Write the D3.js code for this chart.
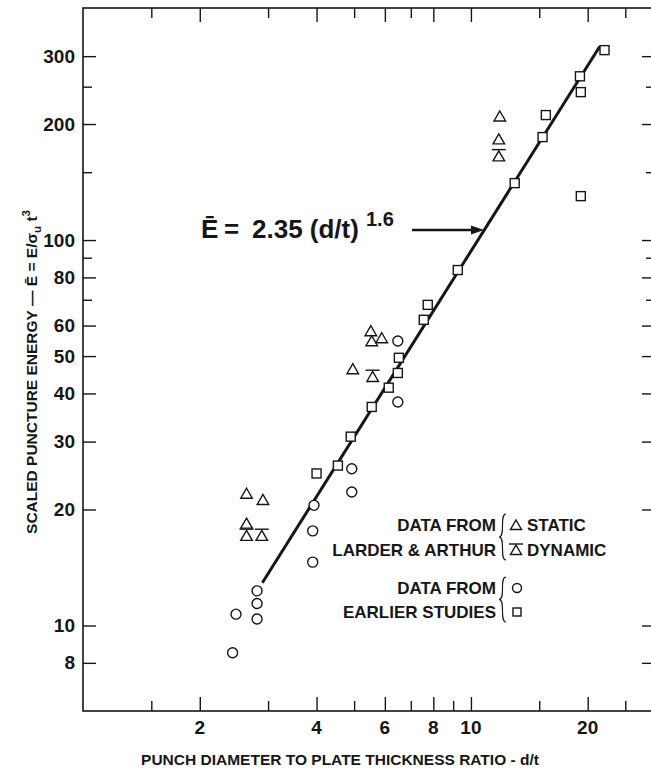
<!DOCTYPE html>
<html>
<head>
<meta charset="utf-8">
<script src="https://cdn.jsdelivr.net/npm/d3@7"></script>
<style>
  body { margin: 0; background: #fff; }
  svg { display: block; }
  text { font-family: "Liberation Sans", Arial, sans-serif; font-weight: bold; fill: #161616; }
</style>
</head>
<body>
<svg id="chart" width="651" height="772"></svg>
<script>
// values (d/t, scaled energy)
const staticX = [2.64, 2.91, 2.64, 4.96, 5.52, 5.55, 5.89, 11.87, 11.8];
const staticY = [22.0, 21.2, 18.4, 46.3, 58.1, 54.7, 55.7, 209.5, 182.7];

const dynamicX = [2.64, 2.89, 5.58, 11.8];
const dynamicY = [17.1, 17.1, 44.2, 165.1];

const circleX = [2.43, 2.48, 2.81, 2.81, 2.81, 3.91, 3.91, 3.94, 4.93, 4.93, 6.48, 6.48];
const circleY = [8.5, 10.7, 12.3, 11.4, 10.4, 14.6, 17.6, 20.5, 22.2, 25.5, 38.0, 54.7];

const squareX = [4.0, 4.54, 4.9, 5.55, 6.14, 6.48, 6.52, 7.56, 7.74, 9.25, 12.97, 15.3, 15.6, 19.1, 19.2, 19.2, 22.1];
const squareY = [24.8, 26.0, 30.9, 36.9, 41.4, 45.2, 49.5, 62.1, 67.9, 83.6, 140.5, 185, 211, 266, 242, 130, 311];

// fitted line E = 2.35 (d/t)^1.6, drawn over this d/t span
const fitCoef = 2.35;
const fitExp = 1.6;
const fitSpan = [2.9, 21.5];

// ticks
const xMajor = [2, 4, 6, 8, 10, 20];
const xMinor = [1.5, 3, 5, 7, 9, 15, 25];
const xMinorTop = [1.5, 3, 5, 7, 15, 25];
const yMajor = [8, 10, 20, 30, 40, 50, 60, 80, 100, 200, 300];
const yMinor = [70, 90, 150, 250];

const xTitle = "PUNCH DIAMETER TO PLATE THICKNESS RATIO - d/t";
const legendLeft = [["DATA FROM", "LARDER & ARTHUR"], ["DATA FROM", "EARLIER STUDIES"]];
const legendRight = ["STATIC", "DYNAMIC"];

const svg = d3.select("#chart");
const ink = "#161616";

const x = d3.scaleLog().domain([1, 30]).range([83, 656]);
const y = d3.scaleLog().domain([6, 400]).range([711, 8]);
const plotLeft = x.range()[0], plotRight = x.range()[1];
const plotTop = y.range()[1], plotBottom = y.range()[0];

// frame
svg.append("rect")
    .attr("x", plotLeft).attr("y", plotTop)
    .attr("width", plotRight - plotLeft).attr("height", plotBottom - plotTop)
    .attr("fill", "none").attr("stroke", ink).attr("stroke-width", 1.6);

// axes, ticks pointing inward
function styleAxis(g) {
    g.select(".domain").remove();
    g.selectAll(".tick line").attr("stroke", ink).attr("stroke-width", 1.4);
    g.selectAll(".tick text")
        .style("font-size", "19px")
        .style("font-family", '"Liberation Sans", Arial, sans-serif')
        .style("font-weight", "bold")
        .attr("fill", ink);
}

svg.append("g").attr("transform", `translate(0,${plotBottom})`)
    .call(d3.axisBottom(x).tickValues(xMajor).tickSize(-14).tickFormat(""))
    .call(styleAxis);
svg.append("g").attr("transform", `translate(0,${plotBottom})`)
    .call(d3.axisBottom(x).tickValues(xMinor).tickSize(-10).tickFormat(""))
    .call(styleAxis);
svg.append("g").attr("transform", `translate(0,${plotTop})`)
    .call(d3.axisTop(x).tickValues(xMajor).tickSize(-14).tickFormat(""))
    .call(styleAxis);
svg.append("g").attr("transform", `translate(0,${plotTop})`)
    .call(d3.axisTop(x).tickValues(xMinorTop).tickSize(-10).tickFormat(""))
    .call(styleAxis);

// x tick labels
svg.append("g").selectAll("text")
    .data(xMajor)
    .join("text")
    .attr("x", d => x(d)).attr("y", plotBottom + 23)
    .attr("text-anchor", "middle")
    .style("font-size", "19px")
    .text(d => d);

svg.append("g").attr("transform", `translate(${plotLeft},0)`)
    .call(d3.axisLeft(y).tickValues(yMajor).tickSize(-13).tickPadding(8).tickFormat(d => String(d)))
    .call(styleAxis);
svg.append("g").attr("transform", `translate(${plotLeft},0)`)
    .call(d3.axisLeft(y).tickValues(yMinor).tickSize(-9).tickFormat(""))
    .call(styleAxis);
svg.append("g").attr("transform", `translate(${plotRight},0)`)
    .call(d3.axisRight(y).tickValues(yMajor).tickSize(-14).tickFormat(""))
    .call(styleAxis);
svg.append("g").attr("transform", `translate(${plotRight},0)`)
    .call(d3.axisRight(y).tickValues(yMinor).tickSize(-10).tickFormat(""))
    .call(styleAxis);

// axis titles
svg.append("text")
    .attr("x", 340).attr("y", 765)
    .attr("text-anchor", "middle")
    .style("font-size", "15.5px")
    .text(xTitle);

const yt = svg.append("text")
    .attr("transform", "translate(37,372) rotate(-90)")
    .attr("text-anchor", "middle")
    .style("font-size", "15.5px");
yt.append("tspan").text("SCALED PUNCTURE ENERGY \u2014 \u0112 = E/\u03c3");
yt.append("tspan").attr("dy", 4).style("font-size", "11.5px").text("u");
yt.append("tspan").attr("dy", -4).text(" t");
yt.append("tspan").attr("dy", -7).style("font-size", "11.5px").text("3");

// fitted line
svg.append("line")
    .attr("x1", x(fitSpan[0])).attr("y1", y(fitCoef * Math.pow(fitSpan[0], fitExp)))
    .attr("x2", x(fitSpan[1])).attr("y2", y(fitCoef * Math.pow(fitSpan[1], fitExp)))
    .attr("stroke", ink).attr("stroke-width", 3);

// markers
const tri = (cx, cy, s) => `M${cx},${cy - s * 0.5}L${cx + s * 0.55},${cy + s * 0.45}L${cx - s * 0.55},${cy + s * 0.45}Z`;
const mk = { fill: "#fff", stroke: ink, sw: 1.4 };

function drawTriangles(xs, ys, barred) {
    xs.forEach((d, i) => {
        const cx = x(d), cy = y(ys[i]);
        svg.append("path").attr("d", tri(cx, cy, 10.5))
            .attr("fill", mk.fill).attr("stroke", mk.stroke).attr("stroke-width", mk.sw);
        if (barred) {
            svg.append("line")
                .attr("x1", cx - 7).attr("x2", cx + 7)
                .attr("y1", cy - 6.5).attr("y2", cy - 6.5)
                .attr("stroke", ink).attr("stroke-width", 1.4);
        }
    });
}

svg.append("g").selectAll("circle")
    .data(d3.zip(circleX, circleY))
    .join("circle")
    .attr("cx", d => x(d[0])).attr("cy", d => y(d[1])).attr("r", 5)
    .attr("fill", mk.fill).attr("stroke", mk.stroke).attr("stroke-width", mk.sw);

svg.append("g").selectAll("rect")
    .data(d3.zip(squareX, squareY))
    .join("rect")
    .attr("x", d => x(d[0]) - 4.5).attr("y", d => y(d[1]) - 4.5)
    .attr("width", 9).attr("height", 9)
    .attr("fill", mk.fill).attr("stroke", mk.stroke).attr("stroke-width", mk.sw);

drawTriangles(staticX, staticY, false);
drawTriangles(dynamicX, dynamicY, true);

// equation with arrow
const eq = svg.append("g");
eq.append("text").attr("x", 201).attr("y", 238).style("font-size", "26px").text("\u0112");
eq.append("text").attr("x", 224).attr("y", 238).style("font-size", "26px").text("=");
eq.append("text").attr("x", 252).attr("y", 238).style("font-size", "26px").text("2.35 (d/t)");
eq.append("text").attr("x", 366).attr("y", 226).style("font-size", "20px").text("1.6");
eq.append("line").attr("x1", 412).attr("x2", 474).attr("y1", 230).attr("y2", 230)
    .attr("stroke", ink).attr("stroke-width", 2.4);
eq.append("path").attr("d", "M484,230L471,225.5L471,234.5Z").attr("fill", ink);

// legend
function brace(bx, y0, y1, w) {
    const m = (y0 + y1) / 2;
    return `M${bx + w},${y0} C${bx},${y0} ${bx + w},${m} ${bx},${m} C${bx + w},${m} ${bx},${y1} ${bx + w},${y1}`;
}

const lg = svg.append("g");
const rows = [[525, 550], [588, 612]];
legendLeft.forEach((pair, k) => {
    pair.forEach((s, j) => {
        lg.append("text").attr("x", 496).attr("y", rows[k][j] + 6)
            .attr("text-anchor", "end").style("font-size", "17px").text(s);
    });
    lg.append("path").attr("d", brace(499, rows[k][0] - 11, rows[k][1] + 10, 7))
        .attr("fill", "none").attr("stroke", ink).attr("stroke-width", 1.1);
});

legendRight.forEach((s, j) => {
    const cy = rows[0][j];
    lg.append("path").attr("d", tri(516, cy, 10))
        .attr("fill", mk.fill).attr("stroke", mk.stroke).attr("stroke-width", mk.sw);
    if (j === 1) {
        lg.append("line").attr("x1", 509).attr("x2", 523).attr("y1", cy - 6).attr("y2", cy - 6)
            .attr("stroke", ink).attr("stroke-width", 1.4);
    }
    lg.append("text").attr("x", 527).attr("y", cy + 6).style("font-size", "17px").text(s);
});
lg.append("circle").attr("cx", 517).attr("cy", rows[1][0]).attr("r", 4.5)
    .attr("fill", mk.fill).attr("stroke", mk.stroke).attr("stroke-width", mk.sw);
lg.append("rect").attr("x", 513).attr("y", rows[1][1] - 4).attr("width", 8).attr("height", 8)
    .attr("fill", mk.fill).attr("stroke", mk.stroke).attr("stroke-width", mk.sw);
</script>
</body>
</html>
